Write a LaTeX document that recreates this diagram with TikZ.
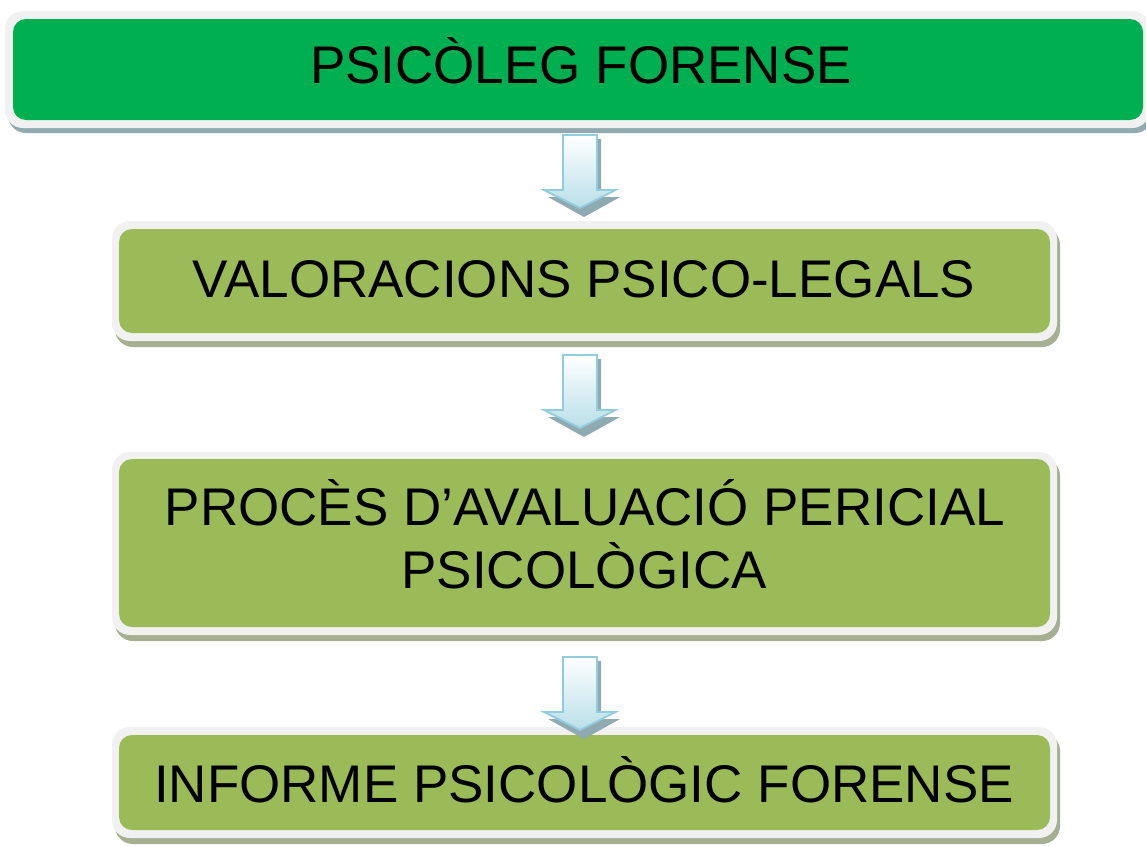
\documentclass[tikz,border=0pt]{standalone}
\usepackage{fontspec}
\setmainfont{Liberation Sans}
\definecolor{topgreen}{HTML}{00AF50}
\definecolor{olive}{HTML}{9BBB59}
\definecolor{rim}{HTML}{F1F1F1}
\definecolor{shadeA}{HTML}{91AAB0}
\definecolor{shadeB}{HTML}{A7AF92}
\definecolor{arrline}{HTML}{93CDDD}
\definecolor{arrfill}{HTML}{B9DFE9}
\definecolor{arrshadow}{HTML}{8FAAB0}
\tikzset{
  boxtext/.style={font=\fontsize{53}{60}\selectfont, text=black, inner sep=0pt, anchor=base},
  rimbox/.style={fill=rim, rounded corners=18pt},
  innerbox/.style={rounded corners=13pt, draw=none},
  blockarrow/.pic={
    \fill[arrshadow] (-13,4) -- (21,4) -- (21,62) -- (40,62) -- (4,82) -- (-32,62) -- (-13,62) -- cycle;
    \draw[arrline, line width=1.8pt, top color=white, bottom color=arrfill, line join=miter]
      (-17,0) -- (17,0) -- (17,55) -- (35.5,55) -- (0,73) -- (-36,55) -- (-17,55) -- cycle;
  }
}
\begin{document}
\begin{tikzpicture}[x=1pt,y=-1pt]
\useasboundingbox (0,0) rectangle (1146,846);
\fill[white] (0,0) rectangle (1146,846);
\clip (0,0) rectangle (1146,846);

% box 1
\fill[shadeA, rounded corners=18pt] (8,16) rectangle (1153,133);
\fill[rimbox] (5,11) rectangle (1150,128);
\node[innerbox, fill=topgreen, minimum width=1130pt, minimum height=101pt, inner sep=0pt] (b1) at (578,69.5) {};
\node[boxtext] (t1) at (581,83) {PSICÒLEG FORENSE};

% box 2
\fill[shadeB, rounded corners=18pt] (115,227) rectangle (1060,347);
\fill[rimbox] (112,221) rectangle (1057,341);
\node[innerbox, fill=olive, minimum width=931pt, minimum height=104pt, inner sep=0pt] (b2) at (584.5,281) {};
\node[boxtext] (t2) at (584,297) {VALORACIONS PSICO-LEGALS};

% box 3
\fill[shadeB, rounded corners=18pt] (115,458) rectangle (1060,641);
\fill[rimbox] (112,452) rectangle (1057,635);
\node[innerbox, fill=olive, minimum width=931pt, minimum height=168pt, inner sep=0pt] (b3) at (584.5,543) {};
\node[boxtext] (t3a) at (585,525) {PROCÈS D’AVALUACIÓ PERICIAL};
\node[boxtext] (t3b) at (584,588) {PSICOLÒGICA};

% box 4
\fill[shadeB, rounded corners=18pt] (115,733) rectangle (1060,844);
\fill[rimbox] (112,727) rectangle (1057,838);
\node[innerbox, fill=olive, minimum width=931pt, minimum height=95pt, inner sep=0pt] (b4) at (584.5,782.5) {};
\node[boxtext] (t4) at (584,802) {INFORME PSICOLÒGIC FORENSE};

% arrows
\pic at (580,135) {blockarrow};
\pic at (580,355) {blockarrow};
\pic at (580,657) {blockarrow};
\end{tikzpicture}
\end{document}
